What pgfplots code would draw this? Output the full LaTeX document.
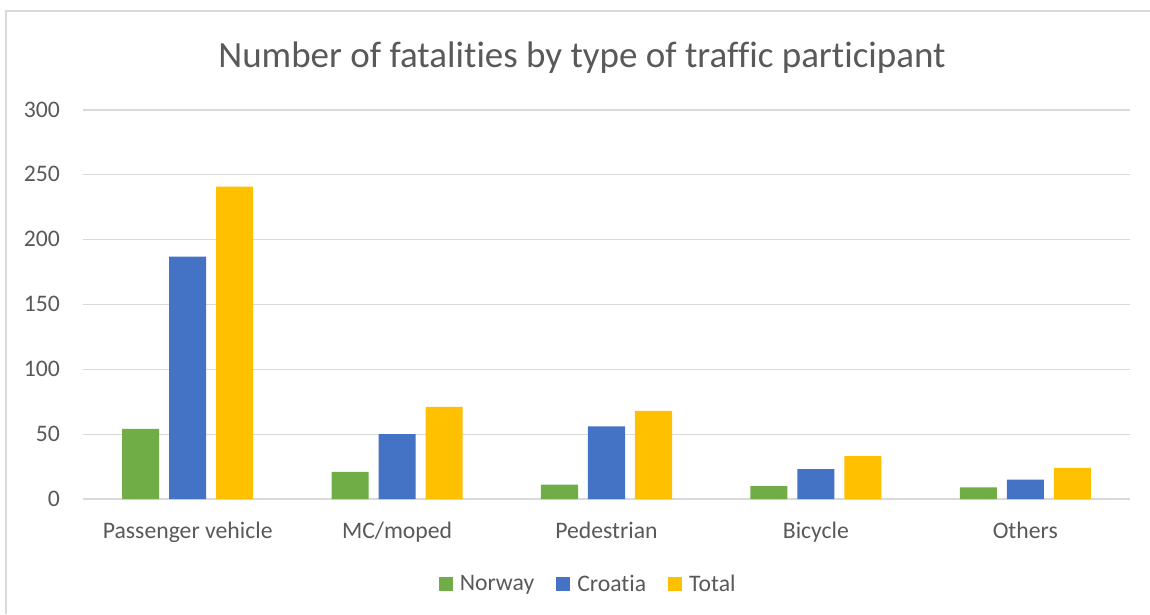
\documentclass[border=0pt]{standalone}
\usepackage{pgfplots}
\pgfplotsset{compat=1.18}
\usepackage{fontspec}
\setmainfont{Carlito}[Ligatures=NoCommon]
\definecolor{cnor}{HTML}{70AD47}
\definecolor{ccro}{HTML}{4472C4}
\definecolor{ctot}{HTML}{FFC000}
\definecolor{gridc}{HTML}{D9D9D9}
\definecolor{txt}{HTML}{595959}
\begin{document}
\begin{tikzpicture}[x=1pt,y=1pt]
\path[use as bounding box] (0,0) rectangle (1150,614);
\draw[color=gridc, line width=1.5pt] (6,0) -- (6,603) -- (1150,603);
\node[text=txt, font=\fontsize{37}{44}\selectfont, anchor=base, inner sep=0pt] at (582,546.3) {Number of fatalities by type of traffic participant};
\begin{axis}[
  at={(83pt,115pt)}, anchor=south west,
  scale only axis, width=1047pt, height=389pt,
  xmin=-0.5, xmax=4.5, ymin=0, ymax=300,
  ytick={0,50,...,300},
  xtick={0,1,2,3,4},
  xticklabels={Passenger vehicle, MC/moped, Pedestrian, Bicycle, Others},
  axis line style={draw=none},
  major tick length=0pt,
  ymajorgrids, grid style={gridc, line width=1.3pt},
  /pgf/number format/assume math mode=true,
  tick label style={font=\fontsize{23.7}{28}\selectfont, text=txt, inner sep=0pt},
  yticklabel style={anchor=base east, xshift=-23pt, yshift=-7pt},
  xticklabel style={anchor=base, yshift=-39pt},
  legend style={at={(0.4825,-0.2185)}, anchor=center, draw=none, fill=none,
    legend columns=3, font=\fontsize{23.7}{28}\selectfont, text=txt,
    /tikz/every even column/.append style={column sep=20pt}},
  legend image code/.code={\fill[#1] (0pt,-7pt) rectangle (14pt,7pt); \path (19pt,0pt);},
]
\addplot[ybar, fill=cnor, draw=none, bar width=0.177, bar shift=-0.2245] coordinates {(0,54) (1,21) (2,11) (3,10) (4,9)};
\addplot[ybar, fill=ccro, draw=none, bar width=0.177, bar shift=0] coordinates {(0,187) (1,50) (2,56) (3,23) (4,15)};
\addplot[ybar, fill=ctot, draw=none, bar width=0.177, bar shift=0.2245] coordinates {(0,241) (1,71) (2,68) (3,33) (4,24)};
\legend{Norway, Croatia, Total}
\end{axis}
\end{tikzpicture}
\end{document}
